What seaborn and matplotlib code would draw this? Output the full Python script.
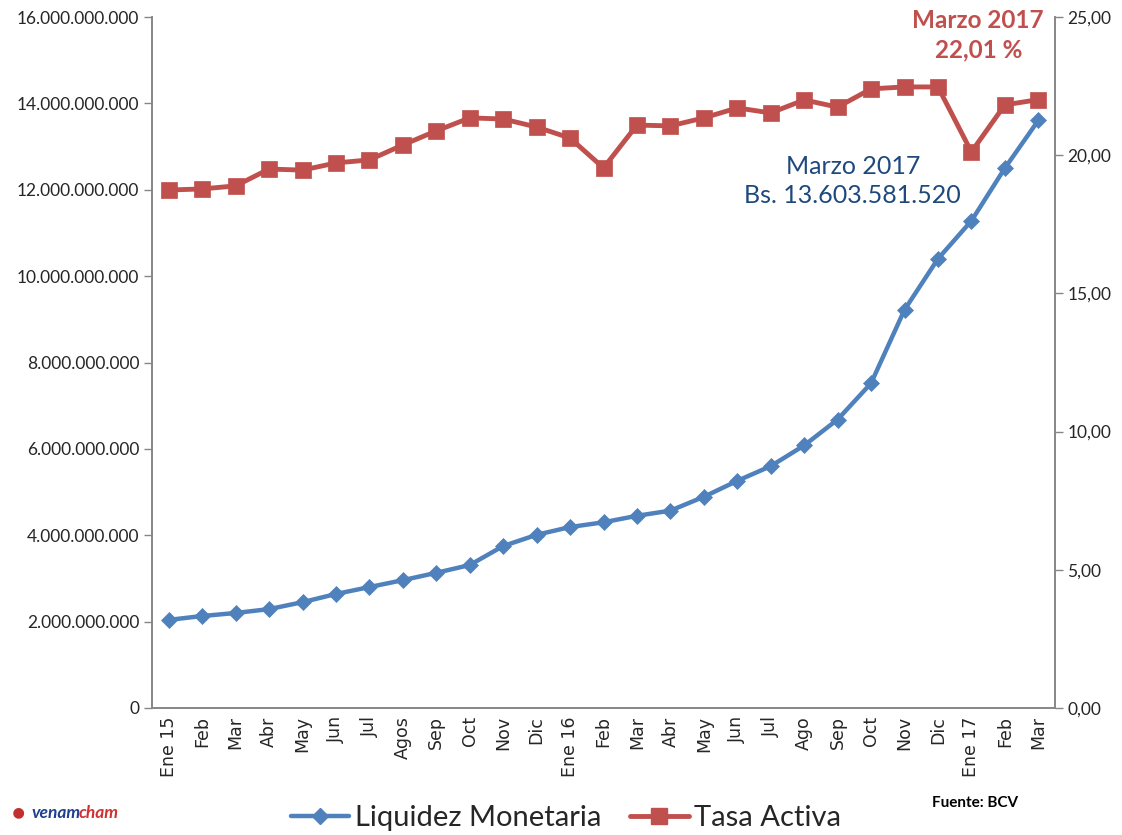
import matplotlib
matplotlib.use("Agg")
import matplotlib.pyplot as plt
from matplotlib.ticker import FuncFormatter, FixedLocator, MultipleLocator
from matplotlib.lines import Line2D
import seaborn as sns
import pandas as pd
import numpy as np

months = ["Ene 15", "Feb", "Mar", "Abr", "May", "Jun", "Jul", "Agos", "Sep", "Oct", "Nov", "Dic",
          "Ene 16", "Feb", "Mar", "Abr", "May", "Jun", "Jul", "Ago", "Sep", "Oct", "Nov", "Dic",
          "Ene 17", "Feb", "Mar"]
liquidez = [2.04e9, 2.13e9, 2.20e9, 2.29e9, 2.45e9, 2.64e9, 2.80e9, 2.96e9, 3.13e9, 3.31e9,
            3.75e9, 4.01e9, 4.19e9, 4.30e9, 4.45e9, 4.57e9, 4.89e9, 5.26e9, 5.60e9, 6.08e9,
            6.68e9, 7.52e9, 9.22e9, 10.40e9, 11.28e9, 12.50e9, 13603581520]
tasa = [18.74, 18.78, 18.89, 19.50, 19.46, 19.72, 19.83, 20.37, 20.88, 21.35, 21.31, 21.02,
        20.62, 19.54, 21.09, 21.06, 21.35, 21.71, 21.53, 22.00, 21.74, 22.40, 22.47, 22.47,
        20.12, 21.82, 22.01]

BLUE = "#4F81BD"
RED = "#C0504D"

sns.set_style("white")
plt.rcParams["font.family"] = ["Lato", "DejaVu Sans"]

df = pd.DataFrame({"pos": np.arange(len(months)), "liquidez": liquidez, "tasa": tasa})

fig = plt.figure(figsize=(11.22, 8.35), dpi=100)
W, H = 1122, 835
ax = fig.add_axes([152 / W, 1 - 708 / H, (1055 - 152) / W, (708 - 17) / H])
ax2 = ax.twinx()

sns.lineplot(data=df, x="pos", y="liquidez", ax=ax, color=BLUE, lw=3.2, marker="D",
             markersize=8, markeredgecolor=BLUE, markeredgewidth=0.5)
sns.lineplot(data=df, x="pos", y="tasa", ax=ax2, color=RED, lw=3.5, marker="s",
             markersize=11, markeredgecolor=RED, markeredgewidth=0.5)

ax.set_xlim(-0.5, len(months) - 0.5)
ax.set_ylim(0, 16e9)
ax2.set_ylim(0, 25)
ax.yaxis.set_major_locator(MultipleLocator(2e9))
ax2.yaxis.set_major_locator(MultipleLocator(5))

def fmt_left(v, p):
    return f"{int(round(v)):,}".replace(",", ".")

def fmt_right(v, p):
    return f"{v:.2f}".replace(".", ",")

ax.yaxis.set_major_formatter(FuncFormatter(fmt_left))
ax2.yaxis.set_major_formatter(FuncFormatter(fmt_right))

ax.set_xticks(np.arange(len(months)))
ax.set_xticklabels(months, rotation=90, family="DejaVu Sans", fontsize=12.5)
ax.xaxis.set_minor_locator(FixedLocator(np.arange(-0.5, len(months), 1.0)))
ax.tick_params(axis="x", which="major", length=0, pad=6)
ax.tick_params(axis="x", which="minor", length=6, color="#868686", width=1, direction="out")
ax.tick_params(axis="y", length=6, color="#868686", width=1, direction="out", labelsize=12.5, pad=3)
ax2.tick_params(axis="y", length=6, color="#868686", width=1, direction="out", labelsize=12.5, pad=3)
ax.set_xlabel("")
ax.set_ylabel("")
ax2.set_ylabel("")

for a in (ax, ax2):
    a.spines["top"].set_visible(False)
    for s in ("left", "right", "bottom"):
        a.spines[s].set_color("#868686")
        a.spines[s].set_linewidth(1.2)
    a.grid(False)

ax2.text(0.915, 1.012, "Marzo 2017\n22,01 %", transform=ax2.transAxes, ha="center", va="top",
         color=RED, fontsize=17.5, fontweight="bold", linespacing=1.35)
ax.text(0.776, 0.80, "Marzo 2017\nBs. 13.603.581.520", transform=ax.transAxes, ha="center",
        va="top", color="#1F497D", fontsize=18, linespacing=1.3)

handles = [Line2D([0], [0], color=BLUE, lw=3.2, marker="D", markersize=8),
           Line2D([0], [0], color=RED, lw=3.5, marker="s", markersize=11)]
fig.legend(handles, ["Liquidez Monetaria", "Tasa Activa"], loc="center",
           bbox_to_anchor=(566 / W, 1 - 818 / H), ncol=2, frameon=False, fontsize=21,
           handlelength=2.0, handletextpad=0.2, columnspacing=1.0)

fig.text(975 / W, 1 - 803 / H, "Fuente: BCV", ha="center", va="center", fontsize=11,
         fontweight="bold", color="black")
t1 = fig.text(32 / W, 1 - 813 / H, "venam", ha="left", va="center", fontsize=12.5,
              fontweight="bold", style="italic", color="#1F3F8F")
ax.annotate("cham", xy=(1, 0.5), xycoords=t1, xytext=(-2, 0), textcoords="offset points",
            ha="left", va="center", fontsize=12.5, fontweight="bold", style="italic",
            color="#D03030", annotation_clip=False)
fig.text(18 / W, 1 - 813 / H, "\u25CF", ha="center", va="center", fontsize=16, color="#C03030")

fig.savefig("out.png", dpi=100)
